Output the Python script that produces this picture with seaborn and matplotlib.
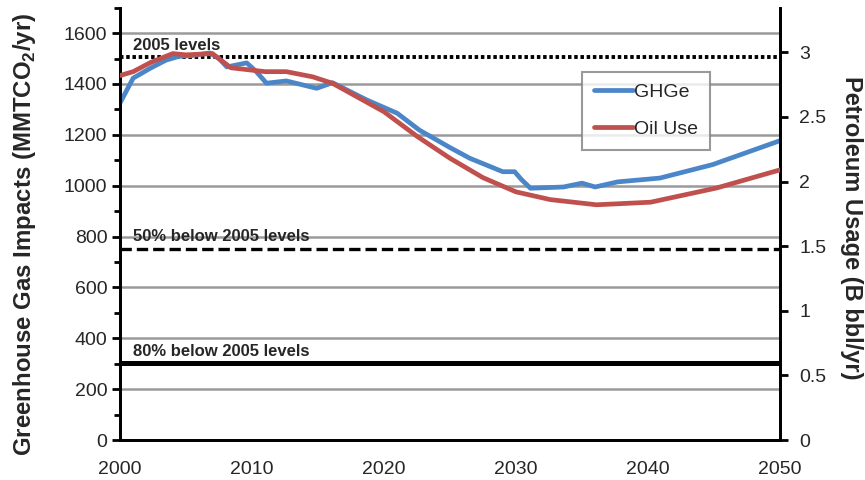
import matplotlib
matplotlib.use("Agg")
import matplotlib.pyplot as plt
import seaborn as sns
import pandas as pd
from matplotlib.ticker import MultipleLocator
from matplotlib.lines import Line2D

# GHG emissions (MMTCO2/yr), left axis
ghg_years = [2000, 2001, 2002.3, 2003.5, 2004.5, 2005.5, 2006.8, 2007.5, 2008.1, 2009.6,
             2010.3, 2011.1, 2012.6, 2014.9, 2016.1, 2018.7, 2021, 2022.7, 2025, 2026.5,
             2029, 2029.9, 2030.4, 2031.1, 2033.6, 2035, 2036, 2037.7, 2040.9, 2044.9, 2050]
ghg_values = [1325, 1423, 1462, 1494, 1509, 1512, 1522, 1500, 1467, 1483,
              1450, 1403, 1412, 1383, 1405, 1337, 1285, 1218, 1150, 1108,
              1055, 1055, 1025, 990, 995, 1010, 995, 1015, 1030, 1083, 1177]

# Oil use (B bbl/yr), right axis
oil_years = [2000, 2001, 2002.3, 2004, 2005, 2007, 2008.4, 2011, 2012.6, 2014.6,
             2016.1, 2020, 2022.5, 2025, 2027.5, 2030, 2032.6, 2036.1, 2040.2,
             2045.2, 2050]
oil_values = [2.82, 2.85, 2.92, 2.99, 2.98, 2.99, 2.88, 2.85, 2.85, 2.81,
              2.76, 2.54, 2.35, 2.18, 2.03, 1.92, 1.86, 1.82, 1.84,
              1.95, 2.09]

# reference levels (left axis units)
ref_levels = [1505, 752, 301]
ref_labels = ["2005 levels", "50% below 2005 levels", "80% below 2005 levels"]

sns.set_theme(style="white")
plt.rcParams['font.family'] = ['Liberation Sans', 'DejaVu Sans']
plt.rcParams['mathtext.fontset'] = 'custom'
plt.rcParams['mathtext.bf'] = 'Liberation Sans:bold'

ghg = pd.DataFrame({'year': ghg_years, 'value': ghg_values})
oil = pd.DataFrame({'year': oil_years, 'value': oil_values})

fig = plt.figure(figsize=(8.65, 4.8), dpi=100)
ax = fig.add_axes([0.1387, 0.0833, 0.763, 0.9007])
ax2 = ax.twinx()

ax.set_xlim(2000, 2050)
ax.set_ylim(0, 1700)
ax2.set_ylim(0, 3.345)

for y in range(200, 1700, 200):
    ax.axhline(y, color='#9a9a9a', lw=1.8, zorder=1)

# reference lines
ax.axhline(ref_levels[0], color='black', lw=2.8, linestyle=(0, (0.9, 0.7)), zorder=2)
ax.axhline(ref_levels[1], color='black', lw=2.4, linestyle=(0, (3.4, 1.5)), zorder=2)
ax.axhline(ref_levels[2], color='black', lw=3.6, zorder=2)
for lvl, lab in zip(ref_levels, ref_labels):
    ax.text(2001, lvl + 18, lab, fontsize=12, fontweight='bold',
            va='bottom', ha='left', zorder=3)

sns.lineplot(data=ghg, x='year', y='value', ax=ax, color='#4a86c8', lw=3.4,
             zorder=4, legend=False, solid_joinstyle='round', solid_capstyle='round')
sns.lineplot(data=oil, x='year', y='value', ax=ax2, color='#c0504d', lw=3.4,
             zorder=4, legend=False, solid_joinstyle='round', solid_capstyle='round')

# legend
handles = [Line2D([], [], color='#4a86c8', lw=3.4), Line2D([], [], color='#c0504d', lw=3.4)]
leg = ax2.legend(handles, ['GHGe', 'Oil Use'], loc='upper left',
                 bbox_to_anchor=(0.70, 0.852), frameon=True, fancybox=False,
                 prop={'size': 14}, handlelength=2.0, handletextpad=0.1,
                 borderpad=0.6, labelspacing=1.0, borderaxespad=0)
leg.get_frame().set_edgecolor('#808080')
leg.get_frame().set_linewidth(1.5)

for a in (ax, ax2):
    a.spines['top'].set_visible(False)
    for s in ('left', 'right', 'bottom'):
        a.spines[s].set_linewidth(2.0)
        a.spines[s].set_color('black')
    a.set_xlabel('')
    a.set_ylabel('')

ax.xaxis.set_major_locator(MultipleLocator(10))
ax.xaxis.set_minor_locator(MultipleLocator(5))
ax.yaxis.set_major_locator(MultipleLocator(200))
ax.yaxis.set_minor_locator(MultipleLocator(100))
ax2.set_yticks([0, 0.5, 1, 1.5, 2, 2.5, 3])
ax2.set_yticklabels(['0', '0.5', '1', '1.5', '2', '2.5', '3'])

ax.tick_params(axis='both', which='major', direction='out', length=6, width=2,
               labelsize=14, color='black', pad=3)
ax.tick_params(axis='x', which='major', pad=9)
ax.tick_params(axis='both', which='minor', direction='out', length=4, width=2, color='black')
ax.tick_params(axis='y', left=True, right=False)
ax2.tick_params(axis='y', which='major', direction='out', length=6, width=2,
                labelsize=14, color='black', right=True, pad=8)

ax.set_ylabel(r'Greenhouse Gas Impacts (MMTCO$_\mathbf{2}$/yr)', fontsize=17.3,
              fontweight='bold', va='center')
ax.yaxis.set_label_coords(-0.144, 0.475)
ax2.set_ylabel('Petroleum Usage (B bbl/yr)', fontsize=17, fontweight='bold',
               rotation=270, va='center')
ax2.yaxis.set_label_coords(1.109, 0.49)

fig.savefig('out.png', dpi=100)
